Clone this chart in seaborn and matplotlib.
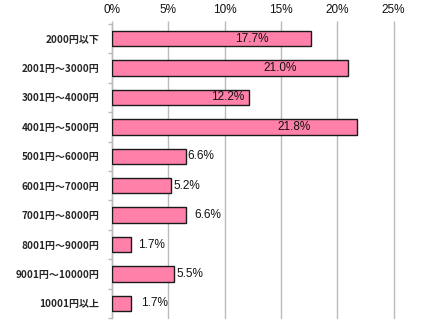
import matplotlib
matplotlib.use("Agg")
import matplotlib.pyplot as plt
import seaborn as sns
import pandas as pd
from matplotlib.ticker import FixedLocator

categories = ["2000円以下", "2001円～3000円", "3001円～4000円", "4001円～5000円",
              "5001円～6000円", "6001円～7000円", "7001円～8000円", "8001円～9000円",
              "9001円～10000円", "10001円以上"]
shares = [17.7, 21.0, 12.2, 21.8, 6.6, 5.2, 6.6, 1.7, 5.5, 1.7]
tick_values = [0, 5, 10, 15, 20, 25]
tick_labels = ["0%", "5%", "10%", "15%", "20%", "25%"]

# label placement: centre of inside labels (in % units) and gap for outside labels (in points)
inside_centres = {0: 12.4, 1: 14.9, 2: 10.3, 3: 16.2}
outside_gaps = {4: 1, 5: 2, 6: 6, 7: 5, 8: 2, 9: 7}

df = pd.DataFrame({"category": categories, "share": shares})

sns.set_style("white")
plt.rcParams["font.family"] = ["Liberation Sans", "DejaVu Sans"]

fig = plt.figure(figsize=(4.34, 3.27), dpi=100)
ax = fig.add_axes([112 / 434, 1 - 318 / 327, (393.5 - 112) / 434, (318 - 24) / 327])

sns.barplot(data=df, x="share", y="category", orient="h", color="#FF80A8",
            saturation=1, width=0.52, edgecolor="#1a1a1a", linewidth=1.0, ax=ax, zorder=3)

ax.set_xlim(0, 25)
ax.set_ylim(len(categories) - 0.5, -0.5)
ax.xaxis.tick_top()
ax.set_xticks(tick_values)
ax.set_xticklabels(tick_labels, fontsize=8.5, color="#111111")
ax.tick_params(axis="x", length=2, width=1, color="#BBBBBB", pad=4)
ax.grid(axis="x", color="#BBBBBB", linewidth=1, zorder=0)
for gl in ax.get_xgridlines():
    gl.set_clip_on(False)
ax.set_xlabel("")
ax.set_ylabel("")

ax.set_yticks(range(len(categories)))
ax.set_yticklabels(categories, fontsize=7.2, fontweight="bold",
                   family=["Noto Sans CJK JP", "DejaVu Sans"])
ax.tick_params(axis="y", length=0, pad=9)
ax.yaxis.set_minor_locator(FixedLocator([i - 0.5 for i in range(len(categories) + 1)]))
ax.tick_params(axis="y", which="minor", length=3, width=1, color="#BBBBBB", left=True)

for s in ["top", "right", "bottom"]:
    ax.spines[s].set_visible(False)
ax.spines["left"].set_color("#BBBBBB")
ax.spines["left"].set_linewidth(1)

for i, v in enumerate(shares):
    text = f"{v:.1f}%"
    if i in inside_centres:
        ax.text(inside_centres[i], i, text, ha="center", va="center", fontsize=8.5,
                color="#111111", zorder=5)
    else:
        ax.annotate(text, (v, i), xytext=(outside_gaps[i], 0), textcoords="offset points",
                    ha="left", va="center", fontsize=8.5, color="#111111", zorder=5)

fig.savefig("out.png", dpi=100)
